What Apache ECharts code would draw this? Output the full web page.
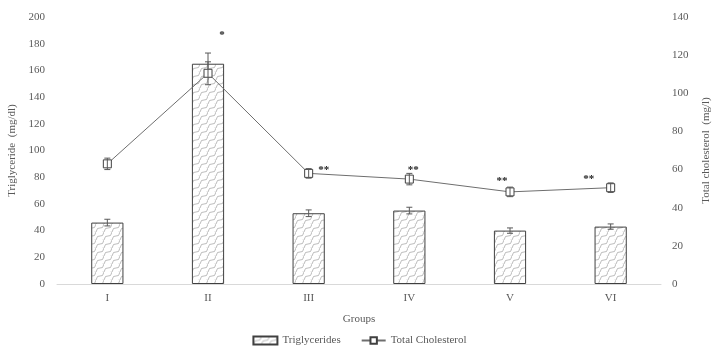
<!DOCTYPE html>
<html><head><meta charset="utf-8">
<script src="https://cdn.jsdelivr.net/npm/echarts@6/dist/echarts.min.js"></script>
<style>html,body{margin:0;padding:0;background:#fff}#c{width:719px;height:351px}</style>
</head><body><div id="c"></div>
<script>
var categories = ['I', 'II', 'III', 'IV', 'V', 'VI'];
var triglycerides = [46, 165, 53, 55, 40, 43];
var trigErr = [2.5, 8, 2.5, 2.5, 2, 2];
var cholesterol = [63, 110.5, 58, 55, 48.3, 50.5];
var cholErr = [3, 6, 2.5, 3, 2.5, 2.5];
var sigLabels = ['', '*', '**', '**', '**', '**'];
var leftTicks = [0, 20, 40, 60, 80, 100, 120, 140, 160, 180, 200];
var rightTicks = [0, 20, 40, 60, 80, 100, 120, 140];

var FONT = '"Liberation Serif", "Times New Roman", serif';
var TXT = '#595959';

// hatch pattern
var pc = document.createElement('canvas');
pc.width = 8; pc.height = 8;
var g = pc.getContext('2d');
g.fillStyle = '#fff'; g.fillRect(0, 0, 8, 8);
g.strokeStyle = '#ababab'; g.lineWidth = 0.8;
g.beginPath();
g.moveTo(0, 8); g.quadraticCurveTo(1, 3, 4, 4); g.quadraticCurveTo(7, 5, 8, 0);
g.stroke();
g.beginPath();
g.moveTo(-4, 4); g.quadraticCurveTo(-3, -1, 0, 0);
g.moveTo(4, 12); g.quadraticCurveTo(5, 7, 8, 8);
g.stroke();

var sigOffsets = [[0, 0], [14, -38], [15, -3], [4, -9], [-8, -11], [-22, -9]];

function errRender(values, errs) {
  return function (params, api) {
    var i = params.dataIndex;
    var x = api.value(0);
    var top = api.coord([x, values[i] + errs[i]]);
    var bot = api.coord([x, values[i] - errs[i]]);
    var w = 3;
    var st = { stroke: '#595959', lineWidth: 1 };
    return { type: 'group', children: [
      { type: 'line', shape: { x1: top[0], y1: top[1], x2: bot[0], y2: bot[1] }, style: st },
      { type: 'line', shape: { x1: top[0] - w, y1: top[1], x2: top[0] + w, y2: top[1] }, style: st },
      { type: 'line', shape: { x1: bot[0] - w, y1: bot[1], x2: bot[0] + w, y2: bot[1] }, style: st }
    ]};
  };
}

var chart = echarts.init(document.getElementById('c'));
chart.setOption({
  animation: false,
  textStyle: { fontFamily: FONT },
  grid: { left: 57, right: 58, top: 17, bottom: 67, containLabel: false, outerBoundsMode: 'none' },
  legend: {
    bottom: 0, itemGap: 20, itemWidth: 24, itemHeight: 8,
    textStyle: { fontFamily: FONT, fontSize: 11, color: TXT },
    data: [
      { name: 'Triglycerides', icon: 'rect' },
      { name: 'Total Cholesterol' }
    ]
  },
  xAxis: {
    type: 'category', data: categories,
    name: 'Groups', nameLocation: 'middle', nameGap: 30,
    nameTextStyle: { fontFamily: FONT, fontSize: 11, color: TXT },
    axisLine: { lineStyle: { color: '#d9d9d9' } },
    axisTick: { show: false },
    axisLabel: { fontFamily: FONT, fontSize: 11, color: TXT, margin: 9 }
  },
  yAxis: [
    {
      type: 'value', min: 0, max: 200, interval: 20,
      name: 'Triglyceride  (mg/dl)', nameLocation: 'middle', nameGap: 37,
      nameTextStyle: { fontFamily: FONT, fontSize: 11, color: TXT },
      axisLine: { show: false }, axisTick: { show: false },
      splitLine: { show: false },
      axisLabel: { fontFamily: FONT, fontSize: 11, color: TXT, margin: 12,
        formatter: function (v) { return leftTicks.indexOf(v) >= 0 ? String(v) : ''; } }
    },
    {
      type: 'value', min: 0, max: 140, interval: 20,
      name: 'Total cholesterol  (mg/l)', nameLocation: 'middle', nameGap: 40,
      nameTextStyle: { fontFamily: FONT, fontSize: 11, color: TXT },
      axisLine: { show: false }, axisTick: { show: false },
      splitLine: { show: false },
      axisLabel: { fontFamily: FONT, fontSize: 11, color: TXT, margin: 11,
        formatter: function (v) { return rightTicks.indexOf(v) >= 0 ? String(v) : ''; } }
    }
  ],
  series: [
    {
      name: 'Triglycerides', type: 'bar', data: triglycerides, barWidth: '32%',
      itemStyle: { color: { image: pc, repeat: 'repeat' }, borderColor: '#404040', borderWidth: 1 }
    },
    {
      type: 'custom', renderItem: errRender(triglycerides, trigErr), z: 5,
      data: categories.map(function (c, i) { return [i, triglycerides[i]]; })
    },
    {
      name: 'Total Cholesterol', type: 'line', yAxisIndex: 1, data: cholesterol,
      symbol: 'rect', symbolSize: 8, showAllSymbol: true, z: 6,
      lineStyle: { color: '#6e6e6e', width: 1 },
      itemStyle: { color: '#fff', borderColor: '#404040', borderWidth: 1 }
    },
    {
      type: 'custom', yAxisIndex: 1, renderItem: errRender(cholesterol, cholErr), z: 7,
      data: categories.map(function (c, i) { return [i, cholesterol[i]]; })
    },
    {
      type: 'custom', yAxisIndex: 1, z: 8,
      data: categories.map(function (c, i) { return [i, cholesterol[i]]; }),
      renderItem: function (params, api) {
        var i = params.dataIndex;
        var p = api.coord([api.value(0), api.value(1)]);
        var o = sigOffsets[i];
        return { type: 'text', style: { text: sigLabels[i], x: p[0] + o[0], y: p[1] + o[1],
          textAlign: 'center', textVerticalAlign: 'middle', fill: '#222', font: 'bold 11px ' + FONT } };
      }
    }
  ]
});
</script></body></html>
